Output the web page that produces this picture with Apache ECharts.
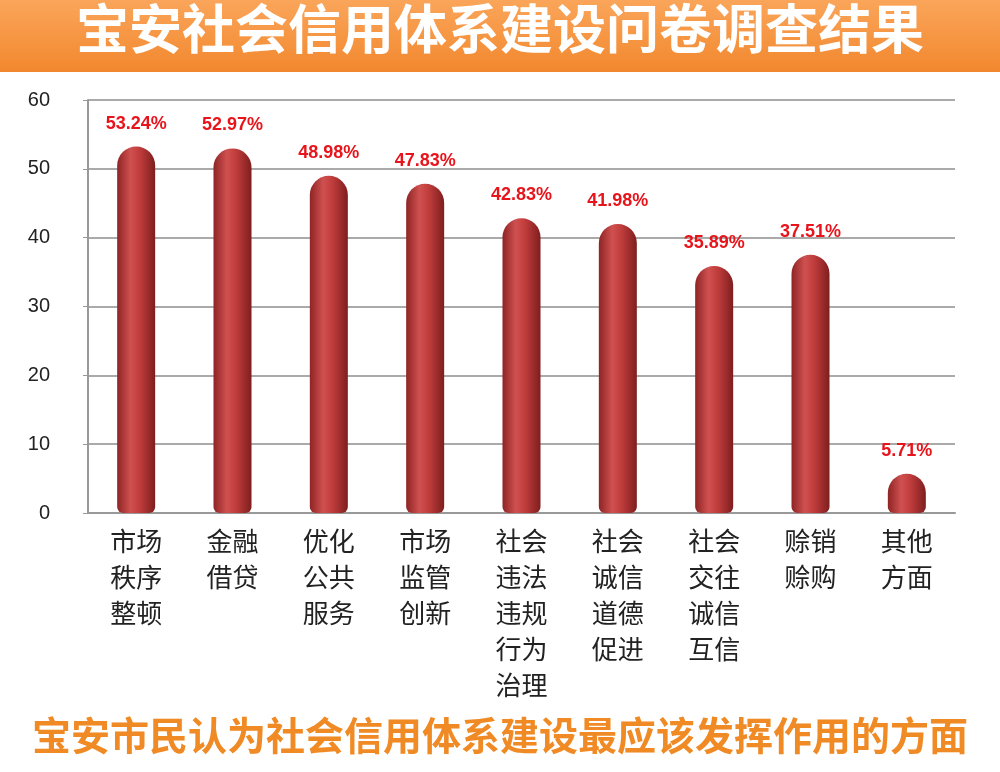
<!DOCTYPE html>
<html><head><meta charset="utf-8">
<script src="https://cdn.jsdelivr.net/npm/echarts@6/dist/echarts.min.js"></script>
<style>body{margin:0;background:#fff}#c{width:1000px;height:772px}</style>
</head><body><div id="c"></div>
<script>
var categories = ['市场\n秩序\n整顿','金融\n借贷','优化\n公共\n服务','市场\n监管\n创新','社会\n违法\n违规\n行为\n治理','社会\n诚信\n道德\n促进','社会\n交往\n诚信\n互信','赊销\n赊购','其他\n方面'];
var values = [53.24, 52.97, 48.98, 47.83, 42.83, 41.98, 35.89, 37.51, 5.71];
var yTicks = [0, 10, 20, 30, 40, 50, 60];

var chart = echarts.init(document.getElementById('c'));
chart.setOption({
  graphic: [
    {type: 'rect', shape: {x: 0, y: 0, width: 1000, height: 72},
     style: {fill: new echarts.graphic.LinearGradient(0, 0, 0, 1, [{offset: 0, color: '#FAA55A'}, {offset: 1, color: '#F2882E'}])}},
    {type: 'text', left: 'center', top: 2, style: {text: '宝安社会信用体系建设问卷调查结果', fill: '#fff', font: 'bold 53px "Noto Sans CJK SC"'}},
    {type: 'text', left: 'center', top: 716, style: {text: '宝安市民认为社会信用体系建设最应该发挥作用的方面', fill: '#F08A24', font: 'bold 39px "Noto Sans CJK SC"'}}
  ],
  grid: {left: 88, right: 45, top: 100, bottom: 259},
  xAxis: {
    type: 'category', data: categories,
    axisLine: {lineStyle: {color: '#999', width: 2}}, axisTick: {show: false},
    axisLabel: {color: '#222', fontSize: 26, lineHeight: 36, margin: 10, fontFamily: 'Noto Sans CJK SC', align: 'center'}
  },
  yAxis: {
    type: 'value', min: 0, max: 60, interval: 10,
    axisLine: {show: true, lineStyle: {color: '#999', width: 2}}, axisTick: {show: true, lineStyle: {color: '#999'}},
    axisLabel: {color: '#222', fontSize: 20, margin: 38, formatter: function (v) { return yTicks.indexOf(v) >= 0 ? v : ''; }},
    splitLine: {lineStyle: {color: '#aaa', width: 2}}
  },
  series: [{
    type: 'bar', data: values, barWidth: 38,
    itemStyle: {
      borderRadius: [19, 19, 6, 6],
      color: new echarts.graphic.LinearGradient(0, 0, 1, 0, [
        {offset: 0, color: '#8E2424'}, {offset: 0.35, color: '#D05050'}, {offset: 0.6, color: '#C03C3C'}, {offset: 1, color: '#7E1E1E'}])
    },
    label: {show: true, position: 'top', distance: 14, color: '#E8141B', fontWeight: 'bold', fontSize: 18,
      formatter: function (p) { return p.value.toFixed(2) + '%'; }}
  }]
});
</script></body></html>
